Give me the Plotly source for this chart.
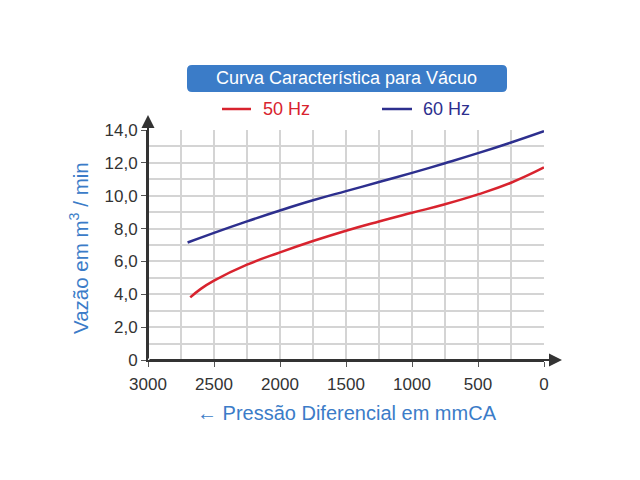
import plotly.graph_objects as go

# curva caracteristica para vacuo
pressao_60 = [2700, 2500, 2250, 2000, 1750, 1500, 1250, 1000, 750, 500, 250, 0]
vazao_60 = [7.15, 7.74, 8.44, 9.10, 9.72, 10.28, 10.83, 11.39, 11.98, 12.59, 13.24, 13.93]

pressao_50 = [2680, 2600, 2500, 2250, 2000, 1750, 1500, 1250, 1000, 750, 500, 250, 0]
vazao_50 = [3.81, 4.33, 4.83, 5.80, 6.55, 7.24, 7.87, 8.43, 8.96, 9.48, 10.08, 10.79, 11.72]

x_ticks = [3000, 2500, 2000, 1500, 1000, 500, 0]
x_labels = ["3000", "2500", "2000", "1500", "1000", "500", "0"]
y_ticks = [0, 2, 4, 6, 8, 10, 12, 14]
y_labels = ["0", "2,0", "4,0", "6,0", "8,0", "10,0", "12,0", "14,0"]

RED = "#d8232e"
NAVY = "#2d2f8e"
BLUE = "#3b7cc8"
FONT = "Arial, Liberation Sans, sans-serif"

# a pagina tem 8px de margem no body
OFF = 8
# zona do grafico em pixeis da imagem
L, R, T, B = 148, 544, 130, 360


def px(x):
    return (x - L) / (R - L)


def py(y):
    return (B - y) / (B - T)


def caixa(x0, y0, x1, y1, r):
    # retangulo com cantos arredondados
    return (f"M {px(x0 + r)} {py(y0)} L {px(x1 - r)} {py(y0)} "
            f"Q {px(x1)} {py(y0)} {px(x1)} {py(y0 + r)} L {px(x1)} {py(y1 - r)} "
            f"Q {px(x1)} {py(y1)} {px(x1 - r)} {py(y1)} L {px(x0 + r)} {py(y1)} "
            f"Q {px(x0)} {py(y1)} {px(x0)} {py(y1 - r)} L {px(x0)} {py(y0 + r)} "
            f"Q {px(x0)} {py(y0)} {px(x0 + r)} {py(y0)} Z")


def texto(x, y, s, size, color, angle=0, anchor="center"):
    fig.add_annotation(xref="paper", yref="paper", x=px(x), y=py(y), showarrow=False,
                       xanchor=anchor, yanchor="middle", textangle=angle, text=s,
                       font=dict(size=size, color=color))


fig = go.Figure()
fig.add_trace(go.Scatter(x=pressao_50, y=vazao_50, mode="lines",
                         line=dict(color=RED, width=2.5, shape="spline", smoothing=1.3),
                         name="50 Hz"))
fig.add_trace(go.Scatter(x=pressao_60, y=vazao_60, mode="lines",
                         line=dict(color=NAVY, width=2.5, shape="spline", smoothing=1.3),
                         name="60 Hz"))

fig.update_layout(
    width=640, height=480,
    margin=dict(l=L - OFF, r=640 - R + OFF, t=T - OFF, b=480 - B + OFF),
    paper_bgcolor="white", plot_bgcolor="white",
    font=dict(family=FONT, size=17, color="#333333"),
    showlegend=False,
    shapes=[
        dict(type="path", xref="paper", yref="paper", path=caixa(187, 65, 507, 92, 5),
             fillcolor=BLUE, line=dict(width=0), layer="above"),
        # legenda
        dict(type="line", xref="paper", yref="paper", x0=px(222), x1=px(251),
             y0=py(109), y1=py(109), line=dict(color=RED, width=2.5)),
        dict(type="line", xref="paper", yref="paper", x0=px(382), x1=px(412),
             y0=py(109), y1=py(109), line=dict(color=NAVY, width=2.5)),
    ],
)

fig.update_xaxes(range=[3000, 0], tickvals=x_ticks, ticktext=x_labels, automargin=False,
                 showgrid=True, gridcolor="#d4d4d4", gridwidth=1.5,
                 minor=dict(dtick=250, showgrid=True, gridcolor="#d4d4d4", gridwidth=1.5),
                 zeroline=False, showline=True, linecolor="#333333", linewidth=2,
                 ticks="outside", ticklen=5, tickcolor="#555555", tickfont=dict(size=17),
                 ticklabelstandoff=3)
fig.update_yaxes(range=[0, 14], tickvals=y_ticks, ticktext=y_labels, automargin=False,
                 showgrid=True, gridcolor="#d4d4d4", gridwidth=1.5,
                 minor=dict(dtick=1, showgrid=True, gridcolor="#d4d4d4", gridwidth=1.5),
                 zeroline=False, showline=True, linecolor="#333333", linewidth=2,
                 ticks="outside", ticklen=5, tickcolor="#555555", tickfont=dict(size=17))

texto(346, 77.5, "Curva Característica para Vácuo", 18, "white")
texto(261, 109, "50 Hz", 18, RED, anchor="left")
texto(421, 109, "60 Hz", 18, NAVY, anchor="left")
texto(79, 248, "Vazão em m<sup>3</sup> / min", 20.5, BLUE, angle=-90)
texto(347, 413, "<b>←</b> Pressão Diferencial em mmCA", 20, BLUE)

# setas dos eixos
fig.add_annotation(xref="paper", yref="paper", x=px(562), y=0, ax=-(562 - L), ay=0,
                   text="", showarrow=True, arrowhead=2, arrowsize=1.3, arrowwidth=2,
                   arrowcolor="#333333", standoff=0)
fig.add_annotation(xref="paper", yref="paper", x=0, y=py(115), ax=0, ay=B - 115,
                   text="", showarrow=True, arrowhead=2, arrowsize=1.3, arrowwidth=2,
                   arrowcolor="#333333", standoff=0)

fig.write_html("out.html")
